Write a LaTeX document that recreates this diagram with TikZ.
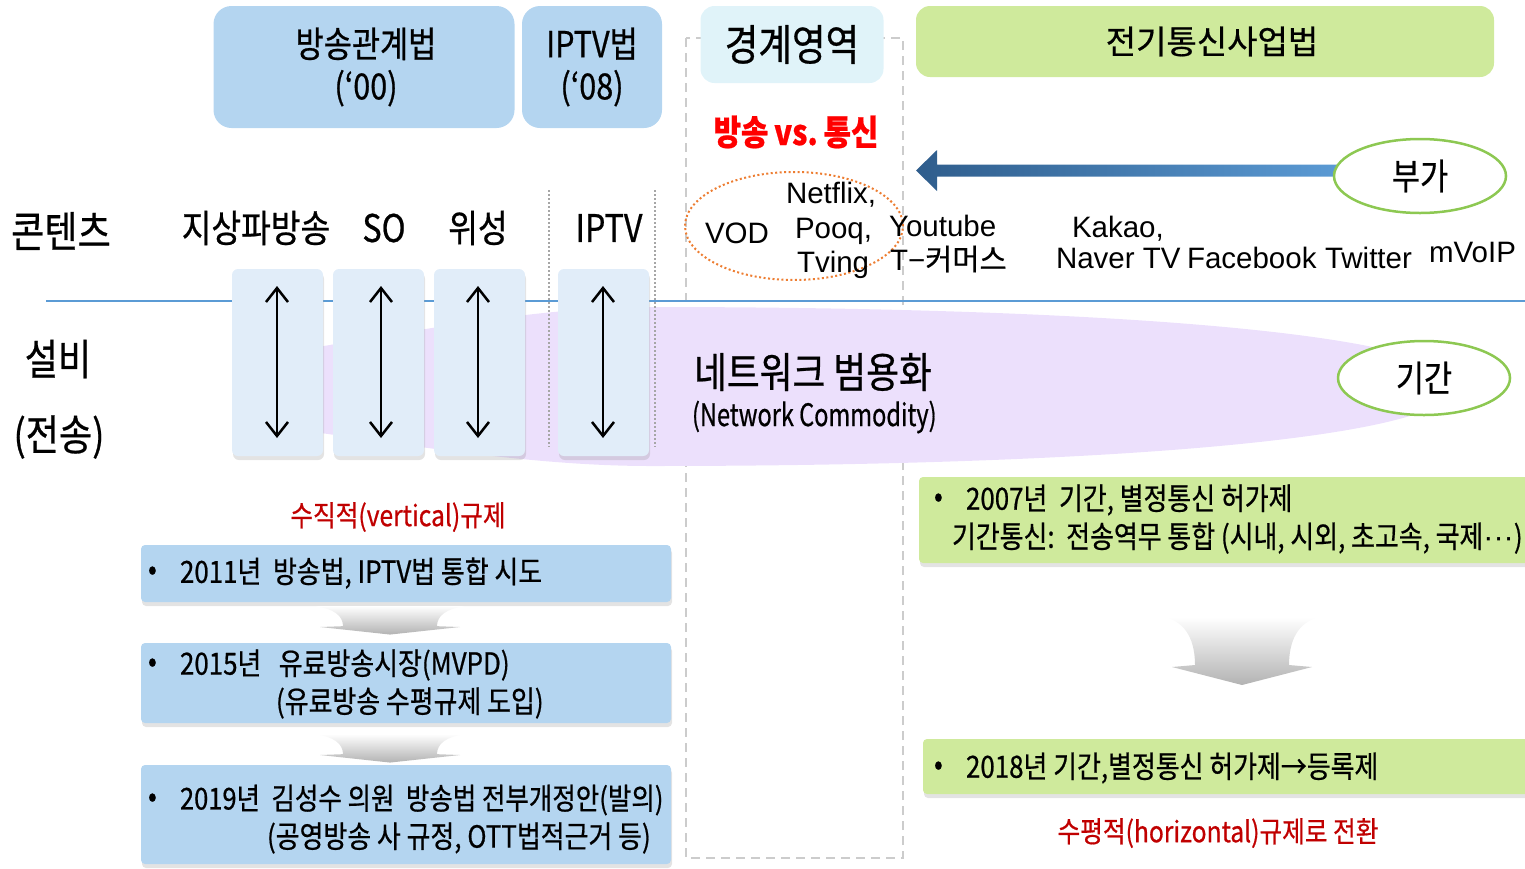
\documentclass[tikz,border=0pt]{standalone}
\usepackage{fontspec}
\setmainfont{Noto Sans CJK KR}
\newfontfamily\kc[FakeStretch=0.85,FakeBold=0.6]{Noto Sans CJK KR}
\newfontfamily\kcc[FakeStretch=0.76,FakeBold=0.6]{Noto Sans CJK KR}
\newfontfamily\kn[FakeBold=0.6]{Noto Sans CJK KR}
\newfontfamily\ar{Liberation Sans}
\usetikzlibrary{shapes.geometric,shadows,arrows.meta}
\definecolor{lawblue}{HTML}{B4D5F0}
\definecolor{lawgreen}{HTML}{CFEA9C}
\definecolor{cyanbox}{HTML}{E0F3F9}
\definecolor{colfill}{HTML}{E1EDF9}
\definecolor{lav}{HTML}{ECE0FC}
\definecolor{ellgreen}{HTML}{8DC852}
\definecolor{dred}{HTML}{C00000}
\definecolor{bred}{HTML}{FF0000}
\definecolor{orng}{HTML}{ED7D31}
\definecolor{lineblue}{HTML}{5B9BD5}
\definecolor{arrdark}{HTML}{2F5D8C}
\definecolor{arrlight}{HTML}{5B9BD5}
\newcommand\fz[1]{\fontsize{#1}{#1}\selectfont}
\begin{document}
\begin{tikzpicture}[x=1pt,y=-1pt,
  every node/.style={inner sep=0pt,outer sep=0pt},
  lawbox/.style={fill=lawblue,rounded corners=18pt,align=center,font=\kc\fontsize{36}{42}\selectfont},
  colbox/.style={fill=colfill,rounded corners=6pt,minimum width=91pt,minimum height=187pt,
    drop shadow={opacity=0.22,shadow xshift=1pt,shadow yshift=-4pt}},
  stepbox/.style={fill=lawblue,rounded corners=4pt,minimum width=530pt,
    drop shadow={opacity=0.22,shadow xshift=1pt,shadow yshift=-4pt}},
  grnbox/.style={fill=lawgreen,rounded corners=4pt,
    drop shadow={opacity=0.22,shadow xshift=1pt,shadow yshift=-4pt}},
  tag/.style={ellipse,draw=ellgreen,line width=2.5pt,fill=white,minimum width=172pt,minimum height=74pt,font=\kc\fz{36}},
  lat/.style={font=\ar\fz{29.5},anchor=base west},
  head/.style={font=\kc\fz{38}},
  side/.style={font=\kc\fz{42.5}},
  item/.style={font=\kc\fz{30.5},anchor=west},
  dbl/.style={{Straight Barb[length=14pt,width=22pt]}-{Straight Barb[length=14pt,width=22pt]},line width=2.5pt},
  dotline/.style={gray!70,line width=2pt,dash pattern=on 2pt off 2pt},
  flowarr/.style={top color=white,bottom color=black!30}
]
\useasboundingbox (0,0) rectangle (1525,868);

% boundary region
\draw[gray!40,line width=2pt,dash pattern=on 9pt off 6pt] (686,38) rectangle (903,858);

% law headers
\node[lawbox,minimum width=301pt,minimum height=122pt,text width=301pt] (bcl) at (364,67) {\hspace*{4pt}방송관계법\\\hspace*{4pt}(‘00)};
\node[lawbox,minimum width=140pt,minimum height=122pt] (iptvl) at (592,67) {IPTV법\\(‘08)};
\node[fill=cyanbox,rounded corners=14pt,minimum width=183pt,minimum height=77pt,font=\kc\fz{43}] (border) at (792,44.5) {경계영역};
\node[fill=lawgreen,rounded corners=14pt,minimum width=578pt,minimum height=71pt,font=\kn\fz{33},text width=578pt,align=center] (telecom) at (1205,41.5) {\hspace*{14pt}전기통신사업법};

\node[font=\kc\bfseries\fz{35},text=bred] (vs) at (796,132) {방송\,vs.\,통신};

% VOD ellipse and services
\node[draw=orng,line width=2pt,dash pattern=on 2pt off 2.5pt,ellipse,minimum width=218pt,minimum height=108pt] (vodell) at (794,226) {};
\node[lat] (vod) at (705,243) {VOD};
\node[lat] (netflix) at (786,203) {Netflix,};
\node[lat] (pooq) at (795,238) {Pooq,};
\node[lat] (tving) at (797,272) {Tving};
\node[lat] (youtube) at (889,236) {Youtube};
\node[lat] (tcom) at (890,270) {T−{\kn\fz{29.5}커머스}};
\node[lat] (kakao) at (1072,237) {Kakao,};
\node[lat] (naver) at (1056,268) {Naver TV};
\node[lat] (fb) at (1187,268) {Facebook};
\node[lat] (tw) at (1325,268) {Twitter};
\node[lat] (mvoip) at (1429,262) {mVoIP};

% value-added arrow
\shade[left color=arrdark,right color=arrlight] (1345,164.5) -- (937,164.5) -- (937,150) -- (916,170.5) -- (937,191) -- (937,176.5) -- (1345,176.5) -- cycle;
\node[tag] (buga) at (1420,176) {부가};

% row labels
\node[side] (content) at (61,231) {콘텐츠};
\node[side] (facil) at (58,359) {설비};
\node[side] (trans) at (59,437) {(전송)};

\node[head] (terr) at (256,228) {지상파방송};
\node[head] (so) at (384,228) {SO};
\node[head] (sat) at (478,228) {위성};
\node[head] (iptv) at (609,228) {IPTV};

% separator line
\draw[lineblue,line width=1.5pt] (46,301) -- (1525,301);

% network commodity
\fill[lav] (300,350) .. controls (420,330) and (540,307) .. (650,307)
  .. controls (1120,307) and (1455,335) .. (1455,386)
  .. controls (1455,437) and (1120,466) .. (650,466)
  .. controls (540,466) and (420,447) .. (300,430) -- cycle;

\draw[dotline] (549,190) -- (549,447);
\draw[dotline] (655,190) -- (655,447);

\node[colbox] (c1) at (277.5,362.5) {};
\node[colbox] (c2) at (378.5,362.5) {};
\node[colbox] (c3) at (479.5,362.5) {};
\node[colbox] (c4) at (603.5,362.5) {};
\coordinate (c1t) at (277,286); \coordinate (c1b) at (277,438);
\coordinate (c2t) at (381,286); \coordinate (c2b) at (381,438);
\coordinate (c3t) at (478,286); \coordinate (c3b) at (478,438);
\coordinate (c4t) at (603,286); \coordinate (c4b) at (603,438);
\draw[dbl] (c1t) -- (c1b);
\draw[dbl] (c2t) -- (c2b);
\draw[dbl] (c3t) -- (c3b);
\draw[dbl] (c4t) -- (c4b);

\node[font=\kc\fz{42},anchor=west] (netw) at (694,372) {네트워크 범용화};
\node[font=\kcc\fz{31},anchor=west] (netwe) at (692,417) {(Network Commodity)};
\node[tag] (gigan) at (1424,378) {기간};

% vertical regulation (left)
\node[font=\kc\fz{29},text=dred] (vert) at (398,517) {수직적(vertical)규제};
\node[stepbox,minimum height=57pt] (s1) at (406,573.5) {};
\node[stepbox,minimum height=80pt] (s2) at (406,683) {};
\node[stepbox,minimum height=99pt] (s3) at (406,814.5) {};
\node[item] (s1b) at (148,573) {•};
\node[item] (s1t) at (180,573) {2011년\ \ 방송법, IPTV법 통합 시도};
\node[item] (s2b) at (148,665) {•};
\node[item] (s2t) at (180,665) {2015년\ \ \ 유료방송시장(MVPD)};
\node[item] (s2u) at (276,703) {(유료방송 수평규제 도입)};
\node[item] (s3b) at (148,800) {•};
\node[item,font=\kc\fz{30}] (s3t) at (180,800) {2019년\ \ 김성수 의원\ \ 방송법 전부개정안(발의)};
\node[item] (s3u) at (267,838) {(공영방송 사 규정, OTT법적근거 등)};

\begin{scope}[shift={(390,606)},yscale=0.42]
\shade[flowarr] (-78,0) .. controls (-55,5) and (-47,25) .. (-47,48) -- (-70,50) -- (0,68) -- (70,50) -- (47,48) .. controls (47,25) and (55,5) .. (78,0) -- cycle;
\end{scope}
\begin{scope}[shift={(390,734)},yscale=0.42]
\shade[flowarr] (-78,0) .. controls (-55,5) and (-47,25) .. (-47,48) -- (-70,50) -- (0,68) -- (70,50) -- (47,48) .. controls (47,25) and (55,5) .. (78,0) -- cycle;
\end{scope}

% horizontal regulation (right)
\node[grnbox,minimum width=621pt,minimum height=86pt] (g1) at (1229.5,520) {};
\node[grnbox,minimum width=617pt,minimum height=55pt] (g2) at (1231.5,766.5) {};
\node[item] (g1b) at (934,500) {•};
\node[item] (g1t) at (966,500) {2007년\ \ 기간, 별정통신 허가제};
\node[item] (g1u) at (952,538) {기간통신:\ \ 전송역무 통합 (시내, 시외, 초고속, 국제{\ar···})};
\node[item] (g2b) at (934,768) {•};
\node[item] (g2t) at (966,768) {2018년 기간,별정통신 허가제→등록제};
\begin{scope}[shift={(1242,617)}]
\shade[flowarr] (-78,0) .. controls (-55,5) and (-47,25) .. (-47,48) -- (-70,50) -- (0,68) -- (70,50) -- (47,48) .. controls (47,25) and (55,5) .. (78,0) -- cycle;
\end{scope}
\node[font=\kc\fz{29},text=dred] (horiz) at (1218,833) {수평적(horizontal)규제로 전환};
\end{tikzpicture}
\end{document}
